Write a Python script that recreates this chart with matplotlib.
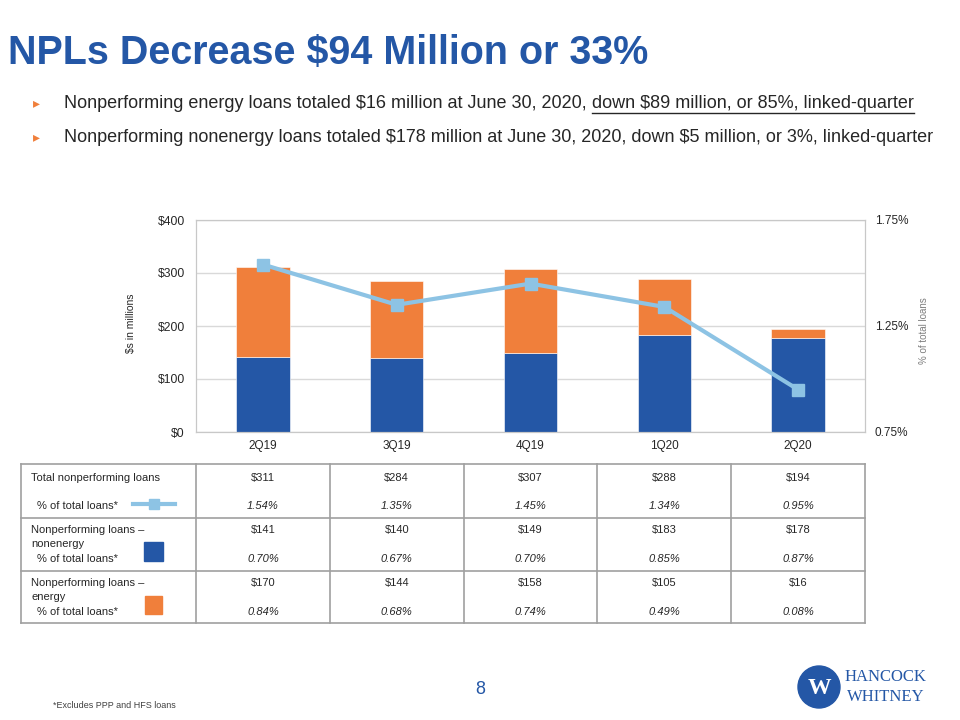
import numpy as np
import matplotlib
import matplotlib.pyplot as plt
from matplotlib import font_manager
from matplotlib.patches import Rectangle, Circle

plt.rcParams['text.parse_math'] = False
plt.rcParams['font.family'] = ['Liberation Sans', 'DejaVu Sans']

# data
quarters = ['2Q19', '3Q19', '4Q19', '1Q20', '2Q20']
total = [311, 284, 307, 288, 194]
total_pct = [1.54, 1.35, 1.45, 1.34, 0.95]
nonenergy = [141, 140, 149, 183, 178]
nonenergy_pct = [0.70, 0.67, 0.70, 0.85, 0.87]
energy = [170, 144, 158, 105, 16]
energy_pct = [0.84, 0.68, 0.74, 0.49, 0.08]

BLUE = '#2457A6'
ORANGE = '#F07F3B'
LINE = '#8DC3E4'
GRID = '#D9D9D9'
TXT = '#262626'

names = {f.name for f in font_manager.fontManager.ttflist}
NARROW = ['Liberation Sans Narrow', 'Liberation Sans', 'DejaVu Sans'] if 'Liberation Sans Narrow' in names else ['Liberation Sans', 'DejaVu Sans']

W, H = 960, 720
fig = plt.figure(figsize=(9.6, 7.2), dpi=100)

# overlay in pixel coords for slide text and table
ov = fig.add_axes([0, 0, 1, 1])
ov.set_xlim(0, W)
ov.set_ylim(H, 0)
ov.axis('off')
renderer = fig.canvas.get_renderer()


def width_px(t):
    bb = t.get_window_extent(renderer=renderer)
    return bb.width


# title, fitted to width
title = ov.text(8, 53, 'NPLs Decrease $94 Million or 33%', fontsize=31, fontweight='bold',
                color=BLUE, family=NARROW, va='center', ha='left')
title.set_fontsize(31 * 640 / width_px(title))

# bullets
line2 = 'Nonperforming nonenergy loans totaled $178 million at June 30, 2020, down $5 million, or 3%, linked-quarter'
l1a = 'Nonperforming energy loans totaled $16 million at June 30, 2020, '
l1b = 'down $89 million, or 85%, linked-quarter'
t2 = ov.text(64, 137, line2, fontsize=14, color=TXT, family=NARROW, va='center')
fs = 14 * 871 / width_px(t2)
t2.set_fontsize(fs)
ta = ov.text(64, 103, l1a, fontsize=fs, color=TXT, family=NARROW, va='center')
wa = width_px(ta)
tb = ov.text(64 + wa, 103, l1b, fontsize=fs, color=TXT, family=NARROW, va='center')
wb = width_px(tb)
ov.plot([64 + wa, 64 + wa + wb], [113, 113], color=TXT, lw=1)
for yy in (103, 137):
    ov.text(36, yy, '\u25B8', fontsize=10, color=ORANGE, family='DejaVu Sans', va='center', ha='center')

# chart
ax = fig.add_axes([196 / W, 1 - 432 / H, 669 / W, 212 / H])
x = np.arange(len(quarters))
ax.bar(x, nonenergy, 0.4, color=BLUE, edgecolor='white', linewidth=0.4, zorder=2)
ax.bar(x, energy, 0.4, bottom=nonenergy, color=ORANGE, edgecolor='white', linewidth=0.4, zorder=2)
ax.set_xlim(-0.5, 4.5)
ax.set_ylim(0, 400)
ax.set_yticks(range(0, 401, 100))
ax.set_yticklabels(['$%d' % v for v in range(0, 401, 100)])
ax.set_xticks(x)
ax.set_xticklabels(quarters)
ax.grid(axis='y', color=GRID, lw=1)
ax.set_axisbelow(True)
for s in ax.spines.values():
    s.set_color('#C8C8C8')
ax.tick_params(axis='y', length=0, labelsize=8.7, colors=TXT, pad=8)
ax.tick_params(axis='x', length=0, labelsize=8.5, colors=TXT, pad=6)

ax2 = ax.twinx()
ax2.plot(x, total_pct, color=LINE, lw=3, marker='s', ms=8, zorder=3)
ax2.set_ylim(0.75, 1.75)
ax2.set_yticks([0.75, 1.25, 1.75])
ax2.set_yticklabels(['%.2f%%' % v for v in [0.75, 1.25, 1.75]])
ax2.tick_params(axis='y', length=0, labelsize=8.5, colors=TXT, pad=7)
for s in ax2.spines.values():
    s.set_color('#C8C8C8')

ov.text(131, 323, '$s in millions', rotation=90, fontsize=7.5, color=TXT, ha='center', va='center')
ov.text(924, 331, '% of total loans', rotation=90, fontsize=7, color='#7F7F7F', ha='center', va='center')

# table
edges = [21] + [196 + 669 / 5 * i for i in range(6)]
rows = [464, 518, 571, 623]
tc = '#A0A0A0'
for yy in rows:
    ov.plot([edges[0], edges[-1]], [yy, yy], color=tc, lw=1.2)
for xx in edges:
    ov.plot([xx, xx], [rows[0], rows[-1]], color=tc, lw=1.2)

tfs = 8
ov.text(31, 478, 'Total nonperforming loans', fontsize=tfs, color=TXT, va='center')
ov.text(37, 506, '% of total loans*', fontsize=tfs, color=TXT, va='center')
ov.text(31, 530, 'Nonperforming loans \u2013', fontsize=tfs, color=TXT, va='center')
ov.text(31, 544, 'nonenergy', fontsize=tfs, color=TXT, va='center')
ov.text(37, 559, '% of total loans*', fontsize=tfs, color=TXT, va='center')
ov.text(31, 583, 'Nonperforming loans \u2013', fontsize=tfs, color=TXT, va='center')
ov.text(31, 597, 'energy', fontsize=tfs, color=TXT, va='center')
ov.text(37, 612, '% of total loans*', fontsize=tfs, color=TXT, va='center')

ov.plot([133, 175], [504, 504], color=LINE, lw=3)
ov.plot([154], [504], marker='s', ms=7, color=LINE)
ov.add_patch(Rectangle((144, 542), 19, 19, color=BLUE))
ov.add_patch(Rectangle((145, 596), 17, 18, color=ORANGE))

table_rows = [(total, total_pct, 478, 506), (nonenergy, nonenergy_pct, 530, 559), (energy, energy_pct, 583, 612)]
for vals, pcts, yv, yp in table_rows:
    for i in range(5):
        cx = (edges[i + 1] + edges[i + 2]) / 2
        ov.text(cx, yv, '$%d' % vals[i], fontsize=tfs, color=TXT, ha='center', va='center')
        ov.text(cx, yp, '%.2f%%' % pcts[i], fontsize=tfs, color=TXT, ha='center', va='center', style='italic')

# footer
ov.text(480, 689, '8', fontsize=13, color=BLUE, ha='center', va='center')
ov.text(53, 706, '*Excludes PPP and HFS loans', fontsize=6.5, color='#404040', va='center')
ov.add_patch(Circle((819, 687), 21, color=BLUE))
ov.text(819, 688, 'W', fontsize=17, fontweight='bold', color='white', family='Liberation Serif',
        ha='center', va='center')
ov.text(886, 677, 'HANCOCK', fontsize=12, color=BLUE, family='Liberation Serif', ha='center', va='center')
ov.text(886, 697, 'WHITNEY', fontsize=12, color=BLUE, family='Liberation Serif', ha='center', va='center')

fig.savefig('out.png', dpi=100)
